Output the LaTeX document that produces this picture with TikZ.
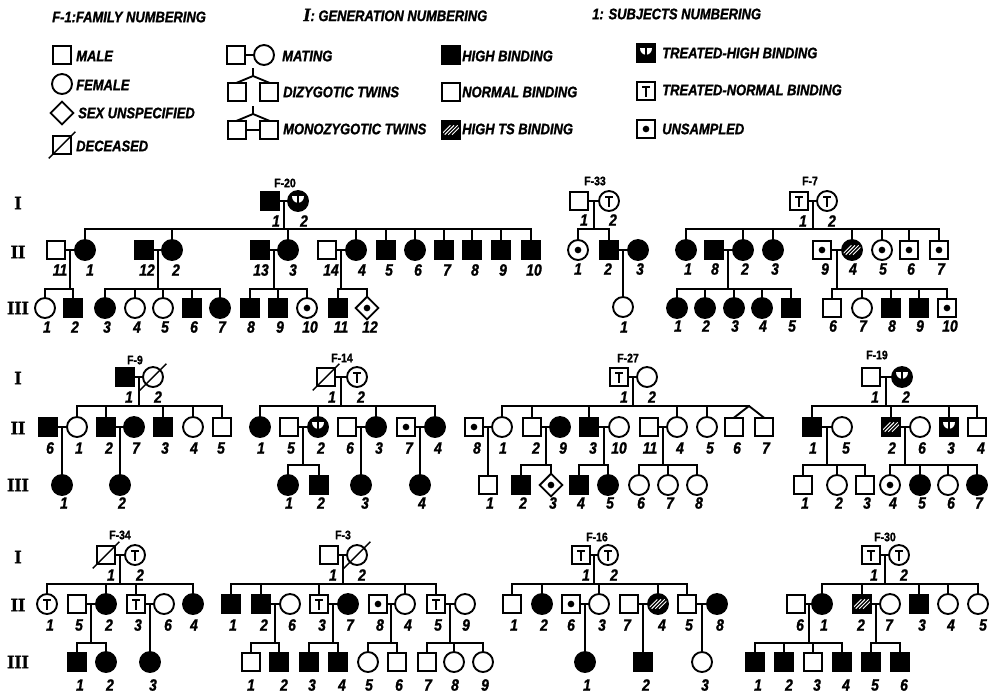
\documentclass[tikz,border=0pt]{standalone}
\usepackage{fontspec}
\newfontfamily\pedfont{Liberation Sans}[FakeStretch=0.85,FakeBold=1.3]
\newfontfamily\genfont{Liberation Serif}[FakeBold=1.5]
\usetikzlibrary{shapes.geometric,calc}

% one person: style, name, x, y, number text, number x, number y
\newcommand\indiv[7]{\node[#1] (#2) at (#3,#4) {};\node[num] (#2n) at (#6,#7) {#5};}
% mating line and the midpoint coordinate below which the children hang
\newcommand\mate[3]{\draw[ln] (#1) -- (#2);\coordinate (#3) at ($(#1.east)!0.5!(#2.west)$);}
% descent, sibship line and drops: midpoint, level, first, last, children
\newcommand\sibship[5]{\draw[ln] (#1) -- (#1 |- #2);\draw[ln] (#3 |- #2) -- (#4 |- #2);\foreach \c in {#5} {\draw[ln] (\c |- #2) -- (\c);}}
\newcommand\onechild[2]{\draw[ln] (#1) -- (#1 |- #2.north);}
\newcommand\deceased[1]{\draw[line width=1.2pt] ($(#1.center)+(-0.4cm,-0.4cm)$) -- ($(#1.center)+(0.4cm,0.4cm)$);}

\tikzset{
  sym/.style={draw, line width=1.6pt, inner sep=0pt, outer sep=0pt},
  male/.style={sym, rectangle, minimum size=0.56cm},
  fem/.style={sym, circle, minimum size=0.6cm},
  unk/.style={sym, diamond, minimum width=0.68cm, minimum height=0.68cm},
  aff/.style={fill=black},
  uns/.style={path picture={\fill (path picture bounding box.center) circle[radius=0.1cm];}},
  hts/.style={fill=black, path picture={\begin{scope}[shift={(path picture bounding box.center)},x=1cm,y=1cm]
      \foreach \d in {-0.16,-0.05,0.06,0.17} \draw[white,line width=0.8pt] (\d-0.14,-0.14) -- (\d+0.14,0.14);
    \end{scope}}},
  trn/.style={path picture={\begin{scope}[shift={(path picture bounding box.center)},x=1cm,y=1cm]
      \draw[line width=1.9pt] (-0.12,0.11) -- (0.12,0.11) (0,0.11) -- (0,-0.17);
    \end{scope}}},
  trh/.style={fill=black, path picture={\begin{scope}[shift={(path picture bounding box.center)},x=1cm,y=1cm]
      \fill[white] (-0.17,0.15) .. controls (-0.17,-0.12) and (0.17,-0.12) .. (0.17,0.15) -- cycle;
      \draw[line width=1.6pt] (0,0.2) -- (0,-0.1);
    \end{scope}}},
  ln/.style={line width=1.6pt, line cap=rect},
  num/.style={inner sep=0pt, font=\pedfont\bfseries\itshape\fontsize{14}{14}\selectfont},
  famlab/.style={inner sep=0pt, font=\pedfont\bfseries\fontsize{10.5}{10.5}\selectfont},
  ltxt/.style={anchor=west, inner sep=0pt, font=\pedfont\bfseries\itshape\fontsize{13}{13}\selectfont},
  gen/.style={inner sep=0pt, font=\genfont\bfseries\fontsize{16}{16}\selectfont}
}

\begin{document}
\begin{tikzpicture}[x=0.03cm,y=-0.03cm]
\useasboundingbox (0,0) rectangle (991,695);
\fill[white] (0,0) rectangle (991,695);

% ---------------- key ----------------
\node[ltxt] (lgfam) at (52,17) {F-1:FAMILY NUMBERING};
\node[ltxt] (lggen) at (303,15) {{\genfont\bfseries\fontsize{16}{16}\selectfont I}: GENERATION NUMBERING};
\node[ltxt] (lgsub) at (592,14) {1: SUBJECTS NUMBERING};

\node[male] (lgm) at (62,55) {};        \node[ltxt] (lgmt) at (76,56) {MALE};
\node[fem] (lgf) at (62,84) {};         \node[ltxt] (lgft) at (76,85) {FEMALE};
\node[unk] (lgu) at (62,113) {};        \node[ltxt] (lgut) at (78,113) {SEX UNSPECIFIED};
\node[male] (lgd) at (62,145) {}; \deceased{lgd}
\node[ltxt] (lgdt) at (76,146) {DECEASED};

\node[male] (lgms) at (236,55) {};
\node[fem] (lgmf) at (264,55) {};
\draw[ln] (lgms) -- (lgmf);
\node[ltxt] (lgmat) at (282,56) {MATING};

\node[male] (lgdz1) at (237,92) {};
\node[male] (lgdz2) at (269,92) {};
\coordinate (lgdztop) at (253,69);
\coordinate (lgdzapex) at (253,76);
\draw[ln] (lgdztop) -- (lgdzapex);
\draw[ln] (lgdz1.north) -- (lgdzapex) -- (lgdz2.north);
\node[ltxt] (lgdzt) at (283,92) {DIZYGOTIC TWINS};

\node[male] (lgmz1) at (237,130) {};
\node[male] (lgmz2) at (269,130) {};
\coordinate (lgmztop) at (253,107);
\coordinate (lgmzapex) at (253,114);
\draw[ln] (lgmztop) -- (lgmzapex);
\draw[ln] (lgmz1.north) -- (lgmzapex) -- (lgmz2.north);
\draw[ln] (lgmz1) -- (lgmz2);
\node[ltxt] (lgmzt) at (283,129) {MONOZYGOTIC TWINS};

\node[male,aff] (lghb) at (451,55) {};  \node[ltxt] (lghbt) at (462,56) {HIGH BINDING};
\node[male] (lgnb) at (451,92) {};      \node[ltxt] (lgnbt) at (462,92) {NORMAL BINDING};
\node[male,hts] (lgts) at (451,130) {}; \node[ltxt] (lgtst) at (462,129) {HIGH TS BINDING};

\node[male,trh] (lgth) at (646,53) {};  \node[ltxt] (lgtht) at (662,53) {TREATED-HIGH BINDING};
\node[male,trn] (lgtn) at (646,91) {};  \node[ltxt] (lgtnt) at (662,90) {TREATED-NORMAL BINDING};
\node[male,uns] (lgus) at (646,129) {}; \node[ltxt] (lgust) at (662,129) {UNSAMPLED};

% ---------------- generation numerals ----------------
\node[gen] (g1a) at (18,203) {I};
\node[gen] (g1b) at (18,252) {II};
\node[gen] (g1c) at (18,308) {III};
\node[gen] (g2a) at (18,378) {I};
\node[gen] (g2b) at (18,428) {II};
\node[gen] (g2c) at (18,485) {III};
\node[gen] (g3a) at (18,557) {I};
\node[gen] (g3b) at (18,605) {II};
\node[gen] (g3c) at (18,662) {III};

% sibship levels of the three rows
\coordinate (r1sb) at (0,229);
\coordinate (r1sc) at (0,289);
\coordinate (r2sb) at (0,406);
\coordinate (r2sc) at (0,465);
\coordinate (r3sb) at (0,584);
\coordinate (r3sc) at (0,643);

% ---------------- F-20 ----------------
\node[famlab] (f20) at (285,183) {F-20};
\indiv{male,aff}{f20a1}{270}{201}{1}{276}{221}
\indiv{fem,trh}{f20a2}{298}{201}{2}{304}{221}
\indiv{male}{f20b11}{56}{250}{11}{60}{270}
\indiv{fem,aff}{f20b1}{85}{250}{1}{90}{270}
\indiv{male,aff}{f20b12}{144}{250}{12}{147}{270}
\indiv{fem,aff}{f20b2}{172}{250}{2}{176}{270}
\indiv{male,aff}{f20b13}{260}{250}{13}{261}{270}
\indiv{fem,aff}{f20b3}{288}{250}{3}{293}{270}
\indiv{male}{f20b14}{327}{250}{14}{331}{270}
\indiv{fem,aff}{f20b4}{356}{250}{4}{362}{270}
\indiv{male,aff}{f20b5}{386}{250}{5}{389}{270}
\indiv{fem,aff}{f20b6}{415}{250}{6}{418}{270}
\indiv{male,aff}{f20b7}{444}{250}{7}{447}{270}
\indiv{male,aff}{f20b8}{472}{250}{8}{475}{270}
\indiv{male,aff}{f20b9}{501}{250}{9}{503}{270}
\indiv{male,aff}{f20b10}{531}{250}{10}{534}{270}
\indiv{fem}{f20c1}{45}{308}{1}{47}{327}
\indiv{male,aff}{f20c2}{73}{308}{2}{75}{327}
\indiv{fem,aff}{f20c3}{105}{308}{3}{107}{327}
\indiv{fem}{f20c4}{135}{308}{4}{137}{327}
\indiv{fem}{f20c5}{163}{308}{5}{165}{327}
\indiv{male,aff}{f20c6}{192}{308}{6}{194}{327}
\indiv{fem,aff}{f20c7}{220}{308}{7}{222}{327}
\indiv{male,aff}{f20c8}{250}{308}{8}{251}{327}
\indiv{male,aff}{f20c9}{278}{308}{9}{280}{327}
\indiv{fem,uns}{f20c10}{307}{308}{10}{310}{327}
\indiv{male,aff}{f20c11}{338}{308}{11}{341}{327}
\indiv{unk,uns}{f20c12}{367}{308}{12}{370}{327}
\mate{f20a1}{f20a2}{f20ma}
\sibship{f20ma}{r1sb}{f20b1}{f20b10}{f20b1,f20b2,f20b3,f20b4,f20b5,f20b6,f20b7,f20b8,f20b9,f20b10}
\mate{f20b11}{f20b1}{f20m1}
\sibship{f20m1}{r1sc}{f20c1}{f20c2}{f20c1,f20c2}
\mate{f20b12}{f20b2}{f20m2}
\sibship{f20m2}{r1sc}{f20c3}{f20c7}{f20c3,f20c4,f20c5,f20c6,f20c7}
\mate{f20b13}{f20b3}{f20m3}
\sibship{f20m3}{r1sc}{f20c8}{f20c10}{f20c8,f20c9,f20c10}
\mate{f20b14}{f20b4}{f20m4}
\sibship{f20m4}{r1sc}{f20c11}{f20c12}{f20c11,f20c12}

% ---------------- F-33 ----------------
\node[famlab] (f33) at (595,181) {F-33};
\indiv{male}{f33a1}{579}{201}{1}{584}{220}
\indiv{fem,trn}{f33a2}{609}{201}{2}{613}{220}
\indiv{fem,uns}{f33b1}{578}{250}{1}{578}{269}
\indiv{male,aff}{f33b2}{609}{250}{2}{608}{269}
\indiv{fem,aff}{f33b3}{638}{250}{3}{640}{269}
\indiv{fem}{f33c1}{623}{307}{1}{624}{327}
\mate{f33a1}{f33a2}{f33ma}
\sibship{f33ma}{r1sb}{f33b1}{f33b2}{f33b1,f33b2}
\mate{f33b2}{f33b3}{f33m2}
\onechild{f33m2}{f33c1}

% ---------------- F-7 ----------------
\node[famlab] (f7) at (810,181) {F-7};
\indiv{male,trn}{f7a1}{799}{201}{1}{803}{221}
\indiv{fem,trn}{f7a2}{827}{201}{2}{832}{221}
\indiv{fem,aff}{f7b1}{686}{250}{1}{688}{269}
\indiv{male,aff}{f7b8}{714}{250}{8}{715}{269}
\indiv{fem,aff}{f7b2}{743}{250}{2}{745}{269}
\indiv{fem,aff}{f7b3}{773}{250}{3}{775}{269}
\indiv{male,uns}{f7b9}{822}{250}{9}{825}{269}
\indiv{fem,hts}{f7b4}{852}{250}{4}{853}{269}
\indiv{fem,uns}{f7b5}{882}{250}{5}{883}{269}
\indiv{male,uns}{f7b6}{909}{250}{6}{911}{269}
\indiv{male,uns}{f7b7}{939}{250}{7}{941}{269}
\indiv{fem,aff}{f7c1}{677}{308}{1}{678}{326}
\indiv{fem,aff}{f7c2}{705}{308}{2}{706}{326}
\indiv{fem,aff}{f7c3}{734}{308}{3}{735}{326}
\indiv{fem,aff}{f7c4}{762}{308}{4}{763}{326}
\indiv{male,aff}{f7c5}{791}{308}{5}{792}{326}
\indiv{male}{f7c6}{832}{308}{6}{833}{326}
\indiv{fem}{f7c7}{862}{308}{7}{863}{326}
\indiv{male,aff}{f7c8}{891}{308}{8}{892}{326}
\indiv{male,aff}{f7c9}{919}{308}{9}{920}{326}
\indiv{male,uns}{f7c10}{947}{308}{10}{950}{326}
\mate{f7a1}{f7a2}{f7ma}
\sibship{f7ma}{r1sb}{f7b1}{f7b7}{f7b1,f7b2,f7b3,f7b4,f7b5,f7b6,f7b7}
\mate{f7b8}{f7b2}{f7m2}
\sibship{f7m2}{r1sc}{f7c1}{f7c5}{f7c1,f7c2,f7c3,f7c4,f7c5}
\mate{f7b9}{f7b4}{f7m4}
\sibship{f7m4}{r1sc}{f7c6}{f7c10}{f7c6,f7c7,f7c8,f7c9,f7c10}

% ---------------- F-9 ----------------
\node[famlab] (f9) at (135,360) {F-9};
\indiv{male,aff}{f9a1}{125}{377}{1}{129}{397}
\indiv{fem}{f9a2}{153}{377}{2}{158}{397}
\deceased{f9a2}
\indiv{male,aff}{f9b6}{48}{427}{6}{50}{448}
\indiv{fem}{f9b1}{77}{427}{1}{79}{448}
\indiv{male,aff}{f9b2}{106}{427}{2}{109}{448}
\indiv{fem,aff}{f9b7}{134}{427}{7}{136}{448}
\indiv{male,aff}{f9b3}{163}{427}{3}{165}{448}
\indiv{fem}{f9b4}{193}{427}{4}{194}{448}
\indiv{male}{f9b5}{222}{427}{5}{221}{448}
\indiv{fem,aff}{f9c1}{62}{485}{1}{64}{503}
\indiv{fem,aff}{f9c2}{120}{485}{2}{122}{503}
\mate{f9a1}{f9a2}{f9ma}
\sibship{f9ma}{r2sb}{f9b1}{f9b5}{f9b1,f9b2,f9b3,f9b4,f9b5}
\mate{f9b6}{f9b1}{f9m1}
\onechild{f9m1}{f9c1}
\mate{f9b2}{f9b7}{f9m2}
\onechild{f9m2}{f9c2}

% ---------------- F-14 ----------------
\node[famlab] (f14) at (342,358) {F-14};
\indiv{male}{f14a1}{326}{377}{1}{332}{397}
\deceased{f14a1}
\indiv{fem,trn}{f14a2}{357}{377}{2}{361}{397}
\indiv{fem,aff}{f14b1}{260}{427}{1}{261}{448}
\indiv{male}{f14b5}{289}{427}{5}{291}{448}
\indiv{fem,trh}{f14b2}{318}{427}{2}{321}{448}
\indiv{male}{f14b6}{347}{427}{6}{350}{448}
\indiv{fem,aff}{f14b3}{376}{427}{3}{379}{448}
\indiv{male,uns}{f14b7}{406}{427}{7}{409}{448}
\indiv{fem,aff}{f14b4}{435}{427}{4}{438}{448}
\indiv{fem,aff}{f14c1}{288}{485}{1}{289}{503}
\indiv{male,aff}{f14c2}{319}{485}{2}{321}{503}
\indiv{fem,aff}{f14c3}{361}{485}{3}{365}{503}
\indiv{fem,aff}{f14c4}{420}{485}{4}{422}{503}
\mate{f14a1}{f14a2}{f14ma}
\sibship{f14ma}{r2sb}{f14b1}{f14b4}{f14b1,f14b2,f14b3,f14b4}
\mate{f14b5}{f14b2}{f14m2}
\sibship{f14m2}{r2sc}{f14c1}{f14c2}{f14c1,f14c2}
\mate{f14b6}{f14b3}{f14m3}
\onechild{f14m3}{f14c3}
\mate{f14b7}{f14b4}{f14m4}
\onechild{f14m4}{f14c4}

% ---------------- F-27 ----------------
\node[famlab] (f27) at (628,358) {F-27};
\indiv{male,trn}{f27a1}{619}{377}{1}{624}{397}
\indiv{fem}{f27a2}{647}{377}{2}{652}{397}
\indiv{male,uns}{f27b8}{474}{427}{8}{477}{448}
\indiv{fem}{f27b1}{502}{427}{1}{503}{448}
\indiv{male}{f27b2}{532}{427}{2}{536}{448}
\indiv{fem,aff}{f27b9}{560}{427}{9}{563}{448}
\indiv{male,aff}{f27b3}{589}{427}{3}{593}{448}
\indiv{fem}{f27b10}{619}{427}{10}{619}{448}
\indiv{male}{f27b11}{649}{427}{11}{650}{448}
\indiv{fem}{f27b4}{677}{427}{4}{680}{448}
\indiv{fem}{f27b5}{707}{427}{5}{710}{448}
\indiv{male}{f27b6}{734}{427}{6}{737}{448}
\indiv{male}{f27b7}{764}{427}{7}{766}{448}
\indiv{male}{f27c1}{488}{485}{1}{490}{503}
\indiv{male,aff}{f27c2}{521}{485}{2}{523}{503}
\indiv{unk,uns}{f27c3}{551}{485}{3}{553}{503}
\indiv{male,aff}{f27c4}{579}{485}{4}{581}{503}
\indiv{fem,aff}{f27c5}{608}{485}{5}{610}{503}
\indiv{fem}{f27c6}{639}{485}{6}{641}{503}
\indiv{fem}{f27c7}{668}{485}{7}{670}{503}
\indiv{fem}{f27c8}{697}{485}{8}{699}{503}
\mate{f27a1}{f27a2}{f27ma}
\coordinate (f27tw) at (749,406);
\sibship{f27ma}{r2sb}{f27b1}{f27tw}{f27b1,f27b2,f27b3,f27b4,f27b5}
\draw[ln] (f27b6.north) -- (f27tw) -- (f27b7.north);
\mate{f27b8}{f27b1}{f27m1}
\onechild{f27m1}{f27c1}
\mate{f27b2}{f27b9}{f27m2}
\sibship{f27m2}{r2sc}{f27c2}{f27c3}{f27c2,f27c3}
\mate{f27b3}{f27b10}{f27m3}
\sibship{f27m3}{r2sc}{f27c4}{f27c5}{f27c4,f27c5}
\mate{f27b11}{f27b4}{f27m4}
\sibship{f27m4}{r2sc}{f27c6}{f27c8}{f27c6,f27c7,f27c8}

% ---------------- F-19 ----------------
\node[famlab] (f19) at (877,355) {F-19};
\indiv{male}{f19a1}{871}{377}{1}{875}{397}
\indiv{fem,trh}{f19a2}{902}{377}{2}{906}{397}
\indiv{male,aff}{f19b1}{812}{427}{1}{813}{448}
\indiv{fem}{f19b5}{842}{427}{5}{846}{448}
\indiv{male,hts}{f19b2}{891}{427}{2}{892}{448}
\indiv{fem}{f19b6}{920}{427}{6}{922}{448}
\indiv{male,trh}{f19b3}{949}{427}{3}{951}{448}
\indiv{male}{f19b4}{977}{427}{4}{981}{448}
\indiv{male}{f19c1}{803}{485}{1}{805}{503}
\indiv{fem}{f19c2}{837}{485}{2}{839}{503}
\indiv{male}{f19c3}{865}{485}{3}{867}{503}
\indiv{fem,uns}{f19c4}{890}{485}{4}{893}{503}
\indiv{fem,aff}{f19c5}{920}{485}{5}{922}{503}
\indiv{fem}{f19c6}{948}{485}{6}{951}{503}
\indiv{fem,aff}{f19c7}{977}{485}{7}{979}{503}
\mate{f19a1}{f19a2}{f19ma}
\sibship{f19ma}{r2sb}{f19b1}{f19b4}{f19b1,f19b2,f19b3,f19b4}
\mate{f19b1}{f19b5}{f19m1}
\sibship{f19m1}{r2sc}{f19c1}{f19c3}{f19c1,f19c2,f19c3}
\mate{f19b2}{f19b6}{f19m2}
\sibship{f19m2}{r2sc}{f19c4}{f19c7}{f19c4,f19c5,f19c6,f19c7}

% ---------------- F-34 ----------------
\node[famlab] (f34) at (120,535) {F-34};
\indiv{male}{f34a1}{106}{555}{1}{111}{575}
\deceased{f34a1}
\indiv{fem,trn}{f34a2}{135}{555}{2}{140}{575}
\indiv{fem,trn}{f34b1}{47}{604}{1}{50}{625}
\indiv{male}{f34b5}{77}{604}{5}{79}{625}
\indiv{fem,aff}{f34b2}{106}{604}{2}{109}{625}
\indiv{male,trn}{f34b3}{136}{604}{3}{138}{625}
\indiv{fem}{f34b6}{164}{604}{6}{168}{625}
\indiv{fem,aff}{f34b4}{193}{604}{4}{194}{625}
\indiv{male,aff}{f34c1}{77}{662}{1}{80}{685}
\indiv{fem,aff}{f34c2}{106}{662}{2}{110}{685}
\indiv{fem,aff}{f34c3}{150}{662}{3}{153}{685}
\mate{f34a1}{f34a2}{f34ma}
\sibship{f34ma}{r3sb}{f34b1}{f34b4}{f34b1,f34b2,f34b3,f34b4}
\mate{f34b5}{f34b2}{f34m2}
\sibship{f34m2}{r3sc}{f34c1}{f34c2}{f34c1,f34c2}
\mate{f34b3}{f34b6}{f34m3}
\onechild{f34m3}{f34c3}

% ---------------- F-3 ----------------
\node[famlab] (f3) at (343,535) {F-3};
\indiv{male}{f3a1}{329}{555}{1}{333}{575}
\indiv{fem}{f3a2}{357}{555}{2}{362}{575}
\deceased{f3a2}
\indiv{male,aff}{f3b1}{231}{604}{1}{233}{625}
\indiv{male,aff}{f3b2}{261}{604}{2}{264}{625}
\indiv{fem}{f3b6}{290}{604}{6}{292}{625}
\indiv{male,trn}{f3b3}{319}{604}{3}{322}{625}
\indiv{fem,aff}{f3b7}{348}{604}{7}{350}{625}
\indiv{male,uns}{f3b8}{378}{604}{8}{380}{625}
\indiv{fem}{f3b4}{405}{604}{4}{408}{625}
\indiv{male,trn}{f3b5}{436}{604}{5}{438}{625}
\indiv{fem}{f3b9}{465}{604}{9}{466}{625}
\indiv{male}{f3c1}{251}{662}{1}{251}{685}
\indiv{male,aff}{f3c2}{279}{662}{2}{284}{685}
\indiv{male,aff}{f3c3}{309}{662}{3}{312}{685}
\indiv{male,aff}{f3c4}{338}{662}{4}{342}{685}
\indiv{fem}{f3c5}{368}{662}{5}{369}{685}
\indiv{male}{f3c6}{397}{662}{6}{399}{685}
\indiv{male}{f3c7}{427}{662}{7}{428}{685}
\indiv{fem}{f3c8}{454}{662}{8}{455}{685}
\indiv{fem}{f3c9}{483}{662}{9}{485}{685}
\mate{f3a1}{f3a2}{f3ma}
\sibship{f3ma}{r3sb}{f3b1}{f3b5}{f3b1,f3b2,f3b3,f3b4,f3b5}
\mate{f3b2}{f3b6}{f3m2}
\sibship{f3m2}{r3sc}{f3c1}{f3c2}{f3c1,f3c2}
\mate{f3b3}{f3b7}{f3m3}
\sibship{f3m3}{r3sc}{f3c3}{f3c4}{f3c3,f3c4}
\mate{f3b8}{f3b4}{f3m4}
\sibship{f3m4}{r3sc}{f3c5}{f3c6}{f3c5,f3c6}
\mate{f3b5}{f3b9}{f3m5}
\sibship{f3m5}{r3sc}{f3c7}{f3c9}{f3c7,f3c8,f3c9}

% ---------------- F-16 ----------------
\node[famlab] (f16) at (597,537) {F-16};
\indiv{male,trn}{f16a1}{581}{555}{1}{586}{575}
\indiv{fem,trn}{f16a2}{608}{555}{2}{614}{575}
\indiv{male}{f16b1}{512}{604}{1}{514}{625}
\indiv{fem,aff}{f16b2}{542}{604}{2}{544}{625}
\indiv{male,uns}{f16b6}{571}{604}{6}{571}{625}
\indiv{fem}{f16b3}{599}{604}{3}{602}{625}
\indiv{male}{f16b7}{629}{604}{7}{627}{625}
\indiv{fem,hts}{f16b4}{658}{604}{4}{662}{625}
\indiv{male}{f16b5}{687}{604}{5}{689}{625}
\indiv{fem,aff}{f16b8}{717}{604}{8}{720}{625}
\indiv{fem,aff}{f16c1}{585}{662}{1}{587}{685}
\indiv{male,aff}{f16c2}{643}{662}{2}{646}{685}
\indiv{fem}{f16c3}{702}{662}{3}{705}{685}
\mate{f16a1}{f16a2}{f16ma}
\sibship{f16ma}{r3sb}{f16b1}{f16b5}{f16b1,f16b2,f16b3,f16b4,f16b5}
\mate{f16b6}{f16b3}{f16m3}
\onechild{f16m3}{f16c1}
\mate{f16b7}{f16b4}{f16m4}
\onechild{f16m4}{f16c2}
\mate{f16b5}{f16b8}{f16m5}
\onechild{f16m5}{f16c3}

% ---------------- F-30 ----------------
\node[famlab] (f30) at (885,537) {F-30};
\indiv{male,trn}{f30a1}{871}{555}{1}{874}{575}
\indiv{fem,trn}{f30a2}{899}{555}{2}{904}{575}
\indiv{male}{f30b6}{796}{604}{6}{800}{625}
\indiv{fem,aff}{f30b1}{822}{604}{1}{824}{625}
\indiv{male,hts}{f30b2}{862}{604}{2}{861}{625}
\indiv{fem}{f30b7}{890}{604}{7}{889}{625}
\indiv{male,aff}{f30b3}{919}{604}{3}{922}{625}
\indiv{fem}{f30b4}{948}{604}{4}{951}{625}
\indiv{fem}{f30b5}{978}{604}{5}{983}{625}
\indiv{male,aff}{f30c1}{755}{662}{1}{758}{685}
\indiv{male,aff}{f30c2}{784}{662}{2}{789}{685}
\indiv{male}{f30c3}{813}{662}{3}{817}{685}
\indiv{male,aff}{f30c4}{842}{662}{4}{846}{685}
\indiv{male,aff}{f30c5}{871}{662}{5}{875}{685}
\indiv{male,aff}{f30c6}{900}{662}{6}{904}{685}
\mate{f30a1}{f30a2}{f30ma}
\sibship{f30ma}{r3sb}{f30b1}{f30b5}{f30b1,f30b2,f30b3,f30b4,f30b5}
\mate{f30b6}{f30b1}{f30m1}
\sibship{f30m1}{r3sc}{f30c1}{f30c4}{f30c1,f30c2,f30c3,f30c4}
\mate{f30b2}{f30b7}{f30m2}
\sibship{f30m2}{r3sc}{f30c5}{f30c6}{f30c5,f30c6}

\end{tikzpicture}
\end{document}
